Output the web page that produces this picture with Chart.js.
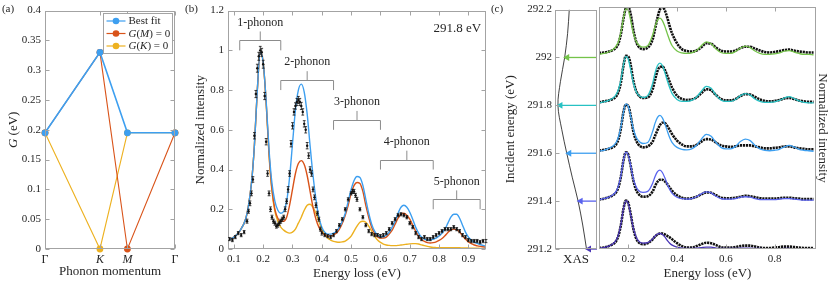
<!DOCTYPE html>
<html>
<head>
<meta charset="utf-8">
<title>Multi-phonon RIXS fits</title>
<script src="https://cdn.jsdelivr.net/npm/chart.js@4"></script>
<style>
  body { margin: 0; background: #fff; }
  #wrap { position: relative; width: 830px; height: 282px; overflow: hidden; }
  #wrap canvas { position: absolute; top: 0; }
</style>
</head>
<body>
<div id="wrap">
  <canvas id="chartA" width="190" height="282" style="left:0"></canvas>
  <canvas id="chartB" width="307" height="282" style="left:183px"></canvas>
  <canvas id="chartXas" width="116" height="282" style="left:485px"></canvas>
  <canvas id="chartC" width="240" height="282" style="left:590px"></canvas>
</div>
<script>
// ---------- panel (a): coupling vs phonon momentum ----------
const A_POS = [0, 1.333, 2, 3.155];
const A_LABELS = ['Γ', 'K', 'M', 'Γ'];
const A_BEST = [0.195, 0.33, 0.195, 0.195];
const A_GM0 = [0.195, 0.33, 0, 0.195];
const A_GK0 = [0.195, 0, 0.195, 0.195];
const A_YTICKS = [0, 0.05, 0.1, 0.15, 0.2, 0.25, 0.3, 0.35, 0.4];
const A_YLABELS = ['0', '0.05', '0.1', '0.15', '0.2', '0.25', '0.3', '0.35', '0.4'];

// ---------- panel (b): spectrum at 291.8 eV ----------
const B_X = [0.085, 0.095, 0.105, 0.115, 0.125, 0.135, 0.145,
  0.150, 0.155, 0.160, 0.165, 0.170, 0.175, 0.180, 0.185, 0.190, 0.195, 0.200,
  0.205, 0.210, 0.215, 0.220, 0.225, 0.230, 0.235, 0.240, 0.245, 0.250,
  0.255, 0.260, 0.265, 0.270, 0.275, 0.280, 0.285, 0.290, 0.295, 0.300,
  0.305, 0.310, 0.315, 0.320, 0.325, 0.330, 0.335, 0.340, 0.345, 0.350,
  0.355, 0.360, 0.365, 0.370, 0.375, 0.380, 0.385, 0.390, 0.395, 0.400,
  0.41, 0.42, 0.43, 0.44, 0.45, 0.46, 0.47, 0.48, 0.49, 0.50,
  0.505, 0.51, 0.515, 0.52,
  0.53, 0.54, 0.55, 0.56, 0.57, 0.58, 0.59, 0.60, 0.61, 0.62, 0.63, 0.64, 0.65, 0.66, 0.67,
  0.68, 0.69, 0.70, 0.71, 0.72, 0.73, 0.74, 0.75, 0.76, 0.77, 0.78, 0.79, 0.80, 0.81, 0.82,
  0.83, 0.84, 0.85, 0.86, 0.87, 0.88, 0.89, 0.90, 0.91, 0.92, 0.93, 0.94, 0.95, 0.96];
const B_Y = [0.05, 0.045, 0.06, 0.08, 0.07, 0.085, 0.14,
  0.19, 0.23, 0.28, 0.35, 0.57, 0.78, 0.91, 0.97, 1.0, 0.99, 0.93,
  0.77, 0.54, 0.38, 0.28, 0.20, 0.16, 0.14, 0.13, 0.115, 0.12,
  0.13, 0.14, 0.15, 0.16, 0.20, 0.24, 0.30, 0.38, 0.53, 0.62,
  0.69, 0.72, 0.74, 0.75, 0.74, 0.72, 0.69, 0.63, 0.60, 0.52,
  0.47, 0.40, 0.38, 0.30, 0.26, 0.22, 0.18, 0.15, 0.10, 0.08,
  0.07, 0.065, 0.06, 0.07, 0.09, 0.12, 0.15, 0.20, 0.25, 0.28,
  0.29, 0.29, 0.27, 0.25,
  0.20, 0.16, 0.12, 0.09, 0.075, 0.07, 0.07, 0.065, 0.07, 0.08, 0.10, 0.13, 0.15, 0.17, 0.175,
  0.17, 0.16, 0.13, 0.11, 0.08, 0.06, 0.05, 0.06, 0.05, 0.05, 0.06, 0.07, 0.08, 0.09, 0.10,
  0.10, 0.10, 0.11, 0.10, 0.09, 0.07, 0.06, 0.045, 0.04, 0.04, 0.04, 0.035, 0.04, 0.04];
const B_ERR = [0.008, 0.008, 0.008, 0.008, 0.008, 0.008, 0.01,
  0.01, 0.012, 0.012, 0.014, 0.016, 0.018, 0.02, 0.02, 0.02, 0.02, 0.02,
  0.018, 0.016, 0.014, 0.012, 0.012, 0.01, 0.01, 0.01, 0.01, 0.01,
  0.01, 0.01, 0.01, 0.01, 0.012, 0.012, 0.014, 0.014, 0.016, 0.016,
  0.016, 0.016, 0.018, 0.018, 0.018, 0.018, 0.016, 0.016, 0.016, 0.016,
  0.014, 0.014, 0.014, 0.012, 0.012, 0.012, 0.01, 0.01, 0.01, 0.01,
  0.008, 0.008, 0.008, 0.008, 0.008, 0.008, 0.008, 0.008, 0.008, 0.008,
  0.01, 0.01, 0.01, 0.01,
  0.008, 0.008, 0.008, 0.008, 0.008, 0.008, 0.008, 0.008, 0.008, 0.008, 0.008, 0.008, 0.008, 0.008, 0.008,
  0.008, 0.008, 0.008, 0.008, 0.008, 0.008, 0.008, 0.008, 0.008, 0.008, 0.008, 0.008, 0.008, 0.008, 0.008,
  0.008, 0.008, 0.008, 0.008, 0.008, 0.008, 0.008, 0.008, 0.008, 0.008, 0.008, 0.008, 0.008, 0.008];

const B_CX = [0.08, 0.10, 0.12, 0.14, 0.15, 0.16, 0.17, 0.18, 0.19, 0.20, 0.21, 0.22, 0.23, 0.24,
  0.25, 0.26, 0.27, 0.28, 0.29, 0.30, 0.31, 0.32, 0.33, 0.34, 0.35, 0.36, 0.37, 0.38, 0.39,
  0.40, 0.41, 0.42, 0.43, 0.44, 0.45, 0.46, 0.47, 0.48, 0.49, 0.50, 0.51, 0.52, 0.53, 0.54,
  0.55, 0.56, 0.57, 0.58, 0.59, 0.60, 0.61, 0.62, 0.63, 0.64, 0.65, 0.66, 0.67, 0.68, 0.69,
  0.70, 0.71, 0.72, 0.73, 0.74, 0.75, 0.76, 0.77, 0.78, 0.79, 0.80, 0.81, 0.82, 0.83, 0.84,
  0.85, 0.86, 0.87, 0.88, 0.89, 0.90, 0.91, 0.92, 0.93, 0.94, 0.95, 0.96];
const B_FIT_BEST = [0.045, 0.06, 0.09, 0.15, 0.22, 0.33, 0.52, 0.80, 0.99, 0.94, 0.75, 0.50, 0.33, 0.24,
  0.195, 0.18, 0.19, 0.24, 0.36, 0.53, 0.70, 0.80, 0.83, 0.79, 0.68, 0.52, 0.37, 0.25, 0.16,
  0.11, 0.085, 0.075, 0.075, 0.08, 0.09, 0.11, 0.14, 0.18, 0.24, 0.30, 0.345, 0.365, 0.36, 0.32,
  0.25, 0.18, 0.125, 0.09, 0.07, 0.062, 0.062, 0.07, 0.085, 0.11, 0.14, 0.18, 0.21, 0.22, 0.21,
  0.185, 0.15, 0.11, 0.08, 0.06, 0.05, 0.045, 0.045, 0.05, 0.055, 0.065, 0.08, 0.10, 0.13, 0.16,
  0.175, 0.175, 0.155, 0.12, 0.085, 0.06, 0.045, 0.035, 0.028, 0.022, 0.018, 0.015];
const B_FIT_GM0 = [0.045, 0.06, 0.09, 0.15, 0.22, 0.33, 0.52, 0.80, 0.99, 0.94, 0.74, 0.48, 0.30, 0.20,
  0.155, 0.14, 0.14, 0.16, 0.22, 0.30, 0.38, 0.43, 0.445, 0.425, 0.37, 0.29, 0.21, 0.15, 0.11,
  0.085, 0.07, 0.065, 0.065, 0.07, 0.08, 0.10, 0.13, 0.17, 0.22, 0.28, 0.32, 0.335, 0.33, 0.29,
  0.22, 0.16, 0.11, 0.08, 0.062, 0.055, 0.055, 0.06, 0.075, 0.095, 0.125, 0.155, 0.175, 0.18, 0.17,
  0.15, 0.12, 0.09, 0.065, 0.048, 0.038, 0.032, 0.03, 0.032, 0.036, 0.043, 0.053, 0.067, 0.083, 0.096,
  0.10, 0.097, 0.085, 0.067, 0.05, 0.036, 0.027, 0.02, 0.016, 0.013, 0.011, 0.01];
const B_FIT_GK0 = [0.045, 0.06, 0.09, 0.15, 0.22, 0.33, 0.52, 0.80, 0.99, 0.94, 0.74, 0.47, 0.29, 0.19,
  0.14, 0.11, 0.095, 0.085, 0.08, 0.085, 0.10, 0.13, 0.16, 0.195, 0.22, 0.225, 0.21, 0.18, 0.14,
  0.10, 0.075, 0.055, 0.045, 0.038, 0.035, 0.034, 0.036, 0.04, 0.05, 0.065, 0.09, 0.115, 0.135, 0.14,
  0.135, 0.115, 0.09, 0.065, 0.045, 0.033, 0.025, 0.02, 0.018, 0.017, 0.017, 0.018, 0.02, 0.022, 0.024,
  0.026, 0.027, 0.027, 0.025, 0.021, 0.017, 0.013, 0.01, 0.008, 0.007, 0.006, 0.006, 0.006, 0.006, 0.006,
  0.006, 0.006, 0.006, 0.005, 0.005, 0.005, 0.004, 0.004, 0.004, 0.003, 0.003, 0.003];
const B_XTICKS = [0.1, 0.2, 0.3, 0.4, 0.5, 0.6, 0.7, 0.8, 0.9];
const B_XLABELS = ['0.1', '0.2', '0.3', '0.4', '0.5', '0.6', '0.7', '0.8', '0.9'];
const B_YTICKS = [0, 0.2, 0.4, 0.6, 0.8, 1, 1.2];
const B_YLABELS = ['0', '0.2', '0.4', '0.6', '0.8', '1', '1.2'];
const B_BR_LABELS = ['1-phonon', '2-phonon', '3-phonon', '4-phonon', '5-phonon'];
const B_BR_X0 = [0.12, 0.26, 0.44, 0.60, 0.78];
const B_BR_X1 = [0.26, 0.44, 0.60, 0.78, 0.94];
const B_BR_Y = [1.05, 0.85, 0.65, 0.45, 0.25];

// ---------- panel (c): XAS and incident-energy series ----------
const XAS_E = [291.2, 291.3, 291.4, 291.5, 291.6, 291.7, 291.8, 291.9, 292.0, 292.1, 292.2];
const XAS_I = [0.25, 0.34, 0.45, 0.59, 0.72, 0.84, 0.93, 0.87, 0.77, 0.70, 0.66];
const XAS_YTICKS = [291.2, 291.4, 291.6, 291.8, 292.0, 292.2];
const XAS_YLABELS = ['291.2', '291.4', '291.6', '291.8', '292', '292.2'];

const C_ENERGIES = [292.0, 291.8, 291.6, 291.4, 291.2];
const C_COLORS = ['#74c349', '#27c1c3', '#3d9ff0', '#5962ee', '#4a36b6'];
const C_X = [0.08, 0.10, 0.12, 0.14, 0.15, 0.16, 0.17, 0.18, 0.19, 0.20, 0.21, 0.22, 0.23, 0.24,
  0.26, 0.28, 0.30, 0.31, 0.32, 0.33, 0.34, 0.35, 0.36, 0.37, 0.38, 0.40, 0.42, 0.44, 0.46,
  0.48, 0.50, 0.52, 0.54, 0.56, 0.58, 0.60, 0.62, 0.64, 0.66, 0.68, 0.70, 0.72, 0.74, 0.76,
  0.78, 0.80, 0.82, 0.84, 0.86, 0.88, 0.90, 0.92, 0.94, 0.96];
const C_FIT_2920 = [0.02, 0.04, 0.07, 0.13, 0.19, 0.29, 0.48, 0.76, 0.96, 0.93, 0.72, 0.47, 0.32, 0.23,
  0.17, 0.20, 0.42, 0.60, 0.73, 0.77, 0.72, 0.60, 0.45, 0.31, 0.20, 0.09, 0.05, 0.04, 0.05,
  0.10, 0.20, 0.28, 0.24, 0.13, 0.06, 0.04, 0.04, 0.08, 0.15, 0.19, 0.16, 0.09, 0.04, 0.02,
  0.02, 0.03, 0.05, 0.09, 0.10, 0.07, 0.04, 0.02, 0.02, 0.01];
const C_DATA_2920 = [0.05, 0.06, 0.08, 0.12, 0.16, 0.25, 0.45, 0.75, 0.97, 1.0, 0.85, 0.55, 0.32, 0.20,
  0.13, 0.16, 0.33, 0.55, 0.78, 0.95, 1.0, 0.93, 0.78, 0.60, 0.45, 0.25, 0.13, 0.09, 0.08,
  0.10, 0.17, 0.25, 0.24, 0.16, 0.10, 0.08, 0.08, 0.10, 0.15, 0.18, 0.18, 0.14, 0.10, 0.07,
  0.06, 0.07, 0.09, 0.11, 0.12, 0.10, 0.08, 0.07, 0.06, 0.06];
const C_FIT_2918 = [0.02, 0.04, 0.07, 0.13, 0.19, 0.30, 0.50, 0.80, 0.98, 0.92, 0.70, 0.45, 0.28, 0.19,
  0.13, 0.17, 0.42, 0.64, 0.79, 0.84, 0.79, 0.65, 0.48, 0.33, 0.21, 0.09, 0.05, 0.05, 0.07,
  0.14, 0.26, 0.36, 0.32, 0.18, 0.08, 0.05, 0.05, 0.09, 0.17, 0.21, 0.18, 0.10, 0.05, 0.03,
  0.03, 0.04, 0.07, 0.12, 0.15, 0.11, 0.06, 0.03, 0.02, 0.02];
const C_DATA_2918 = [0.03, 0.05, 0.07, 0.11, 0.15, 0.25, 0.45, 0.78, 0.99, 0.98, 0.80, 0.50, 0.30, 0.19,
  0.12, 0.13, 0.30, 0.50, 0.68, 0.76, 0.77, 0.70, 0.58, 0.45, 0.33, 0.17, 0.10, 0.08, 0.09,
  0.13, 0.22, 0.30, 0.28, 0.18, 0.10, 0.07, 0.07, 0.10, 0.16, 0.20, 0.19, 0.14, 0.09, 0.06,
  0.05, 0.06, 0.08, 0.11, 0.12, 0.10, 0.07, 0.05, 0.04, 0.04];
const C_FIT_2916 = [0.02, 0.04, 0.08, 0.14, 0.20, 0.32, 0.53, 0.82, 1.0, 0.95, 0.74, 0.50, 0.34, 0.25,
  0.18, 0.20, 0.43, 0.60, 0.72, 0.76, 0.71, 0.59, 0.44, 0.30, 0.20, 0.10, 0.06, 0.05, 0.07,
  0.14, 0.27, 0.37, 0.33, 0.20, 0.10, 0.07, 0.07, 0.12, 0.22, 0.27, 0.24, 0.14, 0.07, 0.04,
  0.03, 0.04, 0.06, 0.11, 0.14, 0.11, 0.06, 0.04, 0.03, 0.02];
const C_DATA_2916 = [0.03, 0.05, 0.07, 0.11, 0.16, 0.27, 0.50, 0.82, 0.98, 0.96, 0.75, 0.45, 0.27, 0.17,
  0.10, 0.12, 0.22, 0.34, 0.46, 0.56, 0.61, 0.60, 0.54, 0.46, 0.37, 0.24, 0.16, 0.12, 0.12,
  0.15, 0.22, 0.27, 0.26, 0.20, 0.14, 0.12, 0.11, 0.12, 0.14, 0.14, 0.14, 0.12, 0.10, 0.08,
  0.08, 0.09, 0.10, 0.12, 0.12, 0.10, 0.08, 0.07, 0.06, 0.06];
const C_FIT_2914 = [0.02, 0.04, 0.07, 0.13, 0.19, 0.31, 0.52, 0.82, 1.0, 0.94, 0.72, 0.47, 0.31, 0.22,
  0.17, 0.19, 0.36, 0.50, 0.60, 0.63, 0.58, 0.47, 0.34, 0.23, 0.15, 0.07, 0.04, 0.03, 0.04,
  0.08, 0.14, 0.18, 0.16, 0.09, 0.04, 0.03, 0.03, 0.04, 0.07, 0.08, 0.07, 0.04, 0.02, 0.02,
  0.02, 0.02, 0.03, 0.04, 0.04, 0.03, 0.02, 0.01, 0.01, 0.01];
const C_DATA_2914 = [0.02, 0.04, 0.07, 0.12, 0.17, 0.28, 0.50, 0.82, 1.0, 0.95, 0.72, 0.44, 0.25, 0.15,
  0.08, 0.09, 0.19, 0.30, 0.39, 0.43, 0.43, 0.40, 0.34, 0.27, 0.20, 0.11, 0.06, 0.04, 0.05,
  0.08, 0.13, 0.17, 0.16, 0.11, 0.06, 0.05, 0.05, 0.06, 0.08, 0.10, 0.09, 0.07, 0.05, 0.04,
  0.04, 0.04, 0.05, 0.06, 0.06, 0.05, 0.04, 0.03, 0.03, 0.03];
const C_FIT_2912 = [0.02, 0.03, 0.06, 0.12, 0.18, 0.30, 0.52, 0.82, 1.0, 0.94, 0.71, 0.45, 0.28, 0.18,
  0.12, 0.13, 0.21, 0.27, 0.31, 0.32, 0.30, 0.25, 0.18, 0.12, 0.08, 0.04, 0.02, 0.01, 0.01,
  0.02, 0.03, 0.04, 0.04, 0.02, 0.01, 0.01, 0.01, 0.01, 0.02, 0.02, 0.02, 0.01, 0.01, 0.0,
  0.0, 0.0, 0.0, 0.01, 0.01, 0.0, 0.0, 0.0, 0.0, 0.0];
const C_DATA_2912 = [0.02, 0.03, 0.06, 0.11, 0.16, 0.28, 0.50, 0.82, 1.0, 0.95, 0.72, 0.44, 0.25, 0.15,
  0.10, 0.12, 0.20, 0.26, 0.30, 0.32, 0.32, 0.30, 0.27, 0.24, 0.20, 0.12, 0.06, 0.03, 0.03,
  0.06, 0.10, 0.13, 0.12, 0.08, 0.04, 0.03, 0.03, 0.04, 0.06, 0.07, 0.07, 0.05, 0.03, 0.02,
  0.02, 0.03, 0.04, 0.05, 0.05, 0.04, 0.03, 0.02, 0.02, 0.02];
const C_FITS = [C_FIT_2920, C_FIT_2918, C_FIT_2916, C_FIT_2914, C_FIT_2912];
const C_DATA = [C_DATA_2920, C_DATA_2918, C_DATA_2916, C_DATA_2914, C_DATA_2912];
const C_XTICKS = [0.2, 0.4, 0.6, 0.8];
const C_XLABELS = ['0.2', '0.4', '0.6', '0.8'];

// ---------- styling ----------
const FONT = "'Liberation Serif', 'Times New Roman', serif";
const TEXT = '#262626';
const AXIS = '#a3a3a3';
const BLUE = '#3d9ff0', ORANGE = '#d95319', YELLOW = '#edb120';

Chart.defaults.font.family = FONT;
Chart.defaults.font.size = 11;
Chart.defaults.color = TEXT;
Chart.defaults.animation = false;
Chart.defaults.plugins.legend.display = false;
Chart.defaults.plugins.tooltip.enabled = false;

function drawRich(ctx, parts, x, y, size, align) {
  let w = 0;
  for (const [t, it] of parts) {
    ctx.font = (it ? 'italic ' : '') + size + 'px ' + FONT;
    w += ctx.measureText(t).width;
  }
  let cx = align === 'center' ? x - w / 2 : x;
  ctx.textAlign = 'left';
  for (const [t, it] of parts) {
    ctx.font = (it ? 'italic ' : '') + size + 'px ' + FONT;
    ctx.fillText(t, cx, y);
    cx += ctx.measureText(t).width;
  }
}

// box with inward ticks, like matlab "box on"
const framePlugin = {
  id: 'frame',
  afterDatasetsDraw(chart, args, o) {
    if (!o || !o.on) return;
    const { ctx, chartArea: a, scales } = chart;
    const L = Math.round(a.left) + 0.5, R = Math.round(a.right) - 0.5;
    const T = Math.round(a.top) + 0.5, B = Math.round(a.bottom) - 0.5;
    ctx.save();
    ctx.strokeStyle = AXIS;
    ctx.lineWidth = 1;
    ctx.strokeRect(L, T, R - L, B - T);
    ctx.beginPath();
    if (o.xTicks) {
      for (const t of scales.x.ticks) {
        const px = Math.round(scales.x.getPixelForValue(t.value)) + 0.5;
        ctx.moveTo(px, B); ctx.lineTo(px, B - 4);
        ctx.moveTo(px, T); ctx.lineTo(px, T + 4);
      }
    }
    if (o.yTicks) {
      for (const t of scales.y.ticks) {
        const py = Math.round(scales.y.getPixelForValue(t.value)) + 0.5;
        ctx.moveTo(L, py); ctx.lineTo(L + 4, py);
        if (o.yRight !== false) { ctx.moveTo(R, py); ctx.lineTo(R - 4, py); }
      }
    }
    ctx.stroke();
    ctx.restore();
  }
};

const notesPlugin = {
  id: 'notes',
  afterDraw(chart, args, o) {
    if (!o || !o.items) return;
    const { ctx, scales } = chart;
    ctx.save();
    ctx.fillStyle = TEXT;
    ctx.textBaseline = 'middle';
    for (const it of o.items) {
      const x = it.data ? scales.x.getPixelForValue(it.x) : it.x;
      const y = it.data ? scales.y.getPixelForValue(it.y) : it.y;
      ctx.font = (it.size || 11) + 'px ' + FONT;
      ctx.textAlign = it.align || 'center';
      ctx.fillText(it.text, x, y);
    }
    ctx.restore();
  }
};

const errorBarPlugin = {
  id: 'errorBars',
  afterDatasetsDraw(chart, args, o) {
    if (!o || !o.on) return;
    const { ctx, scales: { x, y } } = chart;
    ctx.save();
    ctx.strokeStyle = '#111';
    ctx.lineWidth = 0.8;
    ctx.beginPath();
    B_X.forEach((xv, i) => {
      const px = x.getPixelForValue(xv);
      const lo = y.getPixelForValue(B_Y[i] - B_ERR[i]);
      const hi = y.getPixelForValue(B_Y[i] + B_ERR[i]);
      ctx.moveTo(px, lo); ctx.lineTo(px, hi);
      ctx.moveTo(px - 1.4, lo); ctx.lineTo(px + 1.4, lo);
      ctx.moveTo(px - 1.4, hi); ctx.lineTo(px + 1.4, hi);
    });
    ctx.stroke();
    ctx.restore();
  }
};

const bracketPlugin = {
  id: 'brackets',
  afterDatasetsDraw(chart, args, o) {
    if (!o || !o.on) return;
    const { ctx, scales: { x, y } } = chart;
    ctx.save();
    ctx.strokeStyle = '#8c8c8c';
    ctx.lineWidth = 1;
    ctx.fillStyle = TEXT;
    ctx.font = '12px ' + FONT;
    ctx.textAlign = 'center';
    ctx.textBaseline = 'middle';
    B_BR_LABELS.forEach((lab, i) => {
      const x0 = x.getPixelForValue(B_BR_X0[i]), x1 = x.getPixelForValue(B_BR_X1[i]);
      const xm = (x0 + x1) / 2;
      const yl = Math.round(y.getPixelForValue(B_BR_Y[i])) + 0.5;
      const ye = y.getPixelForValue(B_BR_Y[i] - o.drop);
      const yt = y.getPixelForValue(B_BR_Y[i] + o.rise);
      ctx.beginPath();
      ctx.moveTo(x0, ye); ctx.lineTo(x0, yl); ctx.lineTo(x1, yl); ctx.lineTo(x1, ye);
      ctx.moveTo(xm, yl); ctx.lineTo(xm, yt);
      ctx.stroke();
      ctx.fillText(lab, xm, y.getPixelForValue(B_BR_Y[i] + o.text));
    });
    ctx.restore();
  }
};

const panelAExtras = {
  id: 'panelA',
  afterDraw(chart, args, o) {
    if (!o || !o.on) return;
    const { ctx, chartArea: a, data } = chart;
    ctx.save();
    ctx.fillStyle = TEXT;
    ctx.textBaseline = 'middle';
    // y title with italic G
    ctx.translate(14, (a.top + a.bottom) / 2);
    ctx.rotate(-Math.PI / 2);
    drawRich(ctx, [['G', true], [' (eV)', false]], 0, 0, 13, 'center');
    ctx.restore();
    // legend box
    const entries = [
      { ds: data.datasets[0], parts: [['Best fit', false]] },
      { ds: data.datasets[1], parts: [['G', true], ['(', false], ['M', true], [') = 0', false]] },
      { ds: data.datasets[2], parts: [['G', true], ['(', false], ['K', true], [') = 0', false]] }
    ];
    const w = 69, h = 40;
    const bx = Math.round(a.right - 3 - w) + 0.5, by = Math.round(a.top + 2) + 0.5;
    ctx.save();
    ctx.fillStyle = '#fff';
    ctx.fillRect(bx, by, w, h);
    ctx.strokeStyle = AXIS;
    ctx.lineWidth = 1;
    ctx.strokeRect(bx, by, w, h);
    entries.forEach((e, i) => {
      const cy = by + 7.5 + i * 12.5;
      ctx.strokeStyle = e.ds.borderColor;
      ctx.lineWidth = 1.2;
      ctx.beginPath(); ctx.moveTo(bx + 3, cy); ctx.lineTo(bx + 22, cy); ctx.stroke();
      ctx.fillStyle = e.ds.borderColor;
      ctx.beginPath(); ctx.arc(bx + 12.5, cy, 3.3, 0, Math.PI * 2); ctx.fill();
      ctx.fillStyle = TEXT;
      ctx.textBaseline = 'middle';
      drawRich(ctx, e.parts, bx + 25, cy + 0.5, 11, 'left');
    });
    ctx.restore();
  }
};

Chart.register(framePlugin, notesPlugin, errorBarPlugin, bracketPlugin, panelAExtras);

const fixW = w => s => { s.width = w; };
const fixH = h => s => { s.height = h; };
const setTicks = vals => s => { s.ticks = vals.map(v => ({ value: v })); };

// note: chart.js paints dataset 0 last, so the top-most series comes first

// ---------- chart (a) ----------
const toXY = (xs, ys) => xs.map((x, i) => ({ x: x, y: ys[i] }));
const lineA = (label, ys, color, width) => ({
  label: label, data: toXY(A_POS, ys), borderColor: color, backgroundColor: color,
  borderWidth: width, pointRadius: 3.4, pointBorderWidth: 0, pointBackgroundColor: color,
  tension: 0, clip: false
});
new Chart(document.getElementById('chartA'), {
  type: 'line',
  data: {
    datasets: [
      lineA('Best fit', A_BEST, BLUE, 1.6),
      lineA('G(M) = 0', A_GM0, ORANGE, 1.1),
      lineA('G(K) = 0', A_GK0, YELLOW, 1.1)
    ]
  },
  options: {
    responsive: false,
    layout: { padding: { top: 7, right: 15, left: 0, bottom: 0 } },
    scales: {
      x: {
        type: 'linear', min: 0, max: 3.155,
        afterBuildTicks: setTicks(A_POS), afterFit: fixH(33),
        grid: { display: false, drawTicks: false }, border: { display: false },
        ticks: {
          padding: 4, maxRotation: 0, autoSkip: false,
          callback: (v, i) => A_LABELS[i],
          font: c => ({ size: 12, style: (c.index === 1 || c.index === 2) ? 'italic' : 'normal' })
        },
        title: { display: true, text: 'Phonon momentum', font: { size: 13 }, padding: { top: 0, bottom: 3 } }
      },
      y: {
        min: 0, max: 0.4,
        afterBuildTicks: setTicks(A_YTICKS), afterFit: fixW(45),
        grid: { display: false, drawTicks: false }, border: { display: false },
        ticks: { padding: 4, autoSkip: false, callback: (v, i) => A_YLABELS[i] }
      }
    },
    plugins: {
      frame: { on: true, xTicks: true, yTicks: true },
      panelA: { on: true },
      notes: { items: [{ text: '(a)', x: 8, y: 9, size: 11 }] }
    }
  }
});

// ---------- chart (b) ----------
const curveB = (ys, color) => ({
  data: toXY(B_CX, ys), borderColor: color, borderWidth: 1.4, pointRadius: 0,
  cubicInterpolationMode: 'monotone'
});
new Chart(document.getElementById('chartB'), {
  type: 'line',
  data: {
    datasets: [
      {
        data: toXY(B_X, B_Y), showLine: false, pointRadius: 1.2, pointBorderWidth: 0,
        pointBackgroundColor: '#111', borderColor: '#111'
      },
      curveB(B_FIT_BEST, BLUE),
      curveB(B_FIT_GM0, ORANGE),
      curveB(B_FIT_GK0, YELLOW)
    ]
  },
  options: {
    responsive: false,
    layout: { padding: { top: 7, right: 3, left: 0, bottom: 0 } },
    scales: {
      x: {
        type: 'linear', min: 0.08, max: 0.96,
        afterBuildTicks: setTicks(B_XTICKS), afterFit: fixH(33),
        grid: { display: false, drawTicks: false }, border: { display: false },
        ticks: { padding: 4, maxRotation: 0, autoSkip: false, callback: (v, i) => B_XLABELS[i] },
        title: { display: true, text: 'Energy loss (eV)', font: { size: 13 }, padding: { top: 0, bottom: 1 } }
      },
      y: {
        min: 0, max: 1.2,
        afterBuildTicks: setTicks(B_YTICKS), afterFit: fixW(45),
        grid: { display: false, drawTicks: false }, border: { display: false },
        ticks: { padding: 4, autoSkip: false, callback: (v, i) => B_YLABELS[i] },
        title: { display: true, text: 'Normalized intensity', font: { size: 13 }, padding: { top: 10, bottom: 0 } }
      }
    },
    plugins: {
      frame: { on: true, xTicks: true, yTicks: true },
      errorBars: { on: true },
      brackets: { on: true, drop: 0.05, rise: 0.045, text: 0.09 },
      notes: {
        items: [
          { text: '(b)', x: 8.5, y: 9, size: 11 },
          { text: '291.8 eV', x: 0.862, y: 1.107, data: true, size: 13 }
        ]
      }
    }
  }
});

// ---------- chart (c), XAS strip ----------
const xasDatasets = [];
C_ENERGIES.forEach((e, i) => {
  const k = XAS_E.indexOf(e);
  xasDatasets.push({
    data: [{ x: 0, y: e }, { x: XAS_I[k] - 0.06, y: e }],
    borderColor: C_COLORS[i], backgroundColor: C_COLORS[i], borderWidth: 1.3,
    pointRadius: [0, 4], pointStyle: 'triangle', pointRotation: 270,
    pointBorderWidth: 0, pointBackgroundColor: C_COLORS[i], clip: false
  });
});
xasDatasets.push({
  data: XAS_E.map((e, i) => ({ x: XAS_I[i], y: e })),
  borderColor: '#111', borderWidth: 0.8, pointRadius: 0, tension: 0.35
});
new Chart(document.getElementById('chartXas'), {
  type: 'line',
  data: { datasets: xasDatasets },
  options: {
    responsive: false,
    layout: { padding: { top: 7, right: 2, left: 0, bottom: 0 } },
    scales: {
      x: {
        type: 'linear', min: 0, max: 1, reverse: true, afterFit: fixH(33),
        grid: { display: false, drawTicks: false }, border: { display: false },
        ticks: { display: false },
        title: { display: true, text: 'XAS', font: { size: 13 }, padding: { top: 0, bottom: 15 } }
      },
      y: {
        min: 291.2, max: 292.2,
        afterBuildTicks: setTicks(XAS_YTICKS), afterFit: fixW(70),
        grid: { display: false, drawTicks: false }, border: { display: false },
        ticks: { padding: 3, autoSkip: false, callback: (v, i) => XAS_YLABELS[i] },
        title: { display: true, text: 'Incident energy (eV)', font: { size: 13 }, padding: { top: 18, bottom: 0 } }
      }
    },
    plugins: {
      frame: { on: true, xTicks: false, yTicks: true, yRight: false },
      notes: { items: [{ text: '(c)', x: 12, y: 9, size: 11 }] }
    }
  }
});

// ---------- chart (c), stacked spectra ----------
// each spectrum sits on its own baseline, one unit apart (bottom = 291.2 eV)
const cDatasets = [];
C_ENERGIES.forEach((e, i) => {
  const base = C_ENERGIES.length - 1 - i;
  cDatasets.push({
    data: C_X.map((x, j) => ({ x: x, y: base + C_FITS[i][j] })),
    borderColor: C_COLORS[i], borderWidth: 1.3, pointRadius: 0,
    cubicInterpolationMode: 'monotone'
  });
  cDatasets.push({
    data: C_X.map((x, j) => ({ x: x, y: base + C_DATA[i][j] })),
    borderColor: '#111', borderWidth: 2.6, borderDash: [2.2, 0.8], pointRadius: 0,
    cubicInterpolationMode: 'monotone'
  });
});
new Chart(document.getElementById('chartC'), {
  type: 'line',
  data: { datasets: cDatasets },
  options: {
    responsive: false,
    layout: { padding: { top: 7, right: 0, left: 9, bottom: 0 } },
    scales: {
      x: {
        type: 'linear', min: 0.08, max: 0.97,
        afterBuildTicks: setTicks(C_XTICKS), afterFit: fixH(33),
        grid: { display: false, drawTicks: false }, border: { display: false },
        ticks: { padding: 4, maxRotation: 0, autoSkip: false, callback: (v, i) => C_XLABELS[i] },
        title: { display: true, text: 'Energy loss (eV)', font: { size: 13 }, padding: { top: 0, bottom: 1 } }
      },
      y: {
        position: 'right', min: 0, max: 5, afterFit: fixW(14),
        grid: { display: false, drawTicks: false }, border: { display: false },
        ticks: { display: false },
        title: { display: true, text: 'Normalized intensity', font: { size: 13 }, padding: 0 }
      }
    },
    plugins: {
      frame: { on: true, xTicks: true, yTicks: false }
    }
  }
});
</script>
</body>
</html>
